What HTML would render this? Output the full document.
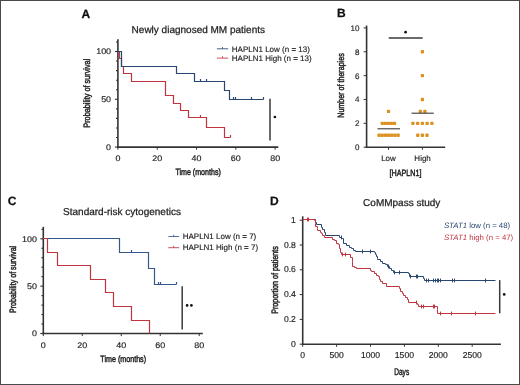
<!DOCTYPE html>
<html><head><meta charset="utf-8"><style>
html,body{margin:0;padding:0;background:#fff;}
body{width:520px;height:385px;overflow:hidden;}
svg{display:block;font-family:"Liberation Sans", sans-serif;will-change:transform;text-rendering:geometricPrecision;}
</style></head><body>
<svg width="520" height="385" viewBox="0 0 520 385">
<rect x="0" y="0" width="520" height="385" fill="#fff"/>
<text x="81.60" y="17.60" font-size="12" text-anchor="start" fill="#111" font-weight="bold" stroke="#111" stroke-width="0.25" >A</text>
<text x="131.60" y="33.00" font-size="10" text-anchor="start" fill="#222" font-weight="normal" stroke="#222" stroke-width="0.25" >Newly diagnosed MM patients</text>
<line x1="117.90" y1="39.30" x2="117.90" y2="147.90" stroke="#333333" stroke-width="1.6"/>
<line x1="117.10" y1="147.10" x2="278.30" y2="147.10" stroke="#333333" stroke-width="1.6"/>
<line x1="114.90" y1="147.10" x2="117.90" y2="147.10" stroke="#333333" stroke-width="1.1"/>
<line x1="116.00" y1="137.54" x2="117.90" y2="137.54" stroke="#333333" stroke-width="1.1"/>
<line x1="116.00" y1="127.98" x2="117.90" y2="127.98" stroke="#333333" stroke-width="1.1"/>
<line x1="116.00" y1="118.42" x2="117.90" y2="118.42" stroke="#333333" stroke-width="1.1"/>
<line x1="116.00" y1="108.86" x2="117.90" y2="108.86" stroke="#333333" stroke-width="1.1"/>
<line x1="114.90" y1="99.30" x2="117.90" y2="99.30" stroke="#333333" stroke-width="1.1"/>
<line x1="116.00" y1="89.74" x2="117.90" y2="89.74" stroke="#333333" stroke-width="1.1"/>
<line x1="116.00" y1="80.18" x2="117.90" y2="80.18" stroke="#333333" stroke-width="1.1"/>
<line x1="116.00" y1="70.62" x2="117.90" y2="70.62" stroke="#333333" stroke-width="1.1"/>
<line x1="116.00" y1="61.06" x2="117.90" y2="61.06" stroke="#333333" stroke-width="1.1"/>
<line x1="114.90" y1="51.50" x2="117.90" y2="51.50" stroke="#333333" stroke-width="1.1"/>
<line x1="116.00" y1="41.94" x2="117.90" y2="41.94" stroke="#333333" stroke-width="1.1"/>
<line x1="117.90" y1="147.10" x2="117.90" y2="149.70" stroke="#333333" stroke-width="1.0"/>
<text x="117.90" y="160.90" font-size="8.2" text-anchor="middle" fill="#222" stroke="#222" stroke-width="0.15" textLength="4.97" lengthAdjust="spacingAndGlyphs">0</text>
<line x1="157.22" y1="147.10" x2="157.22" y2="149.70" stroke="#333333" stroke-width="1.0"/>
<text x="157.22" y="160.90" font-size="8.2" text-anchor="middle" fill="#222" stroke="#222" stroke-width="0.15" textLength="9.94" lengthAdjust="spacingAndGlyphs">20</text>
<line x1="196.54" y1="147.10" x2="196.54" y2="149.70" stroke="#333333" stroke-width="1.0"/>
<text x="196.54" y="160.90" font-size="8.2" text-anchor="middle" fill="#222" stroke="#222" stroke-width="0.15" textLength="9.94" lengthAdjust="spacingAndGlyphs">40</text>
<line x1="235.86" y1="147.10" x2="235.86" y2="149.70" stroke="#333333" stroke-width="1.0"/>
<text x="235.86" y="160.90" font-size="8.2" text-anchor="middle" fill="#222" stroke="#222" stroke-width="0.15" textLength="9.94" lengthAdjust="spacingAndGlyphs">60</text>
<line x1="275.18" y1="147.10" x2="275.18" y2="149.70" stroke="#333333" stroke-width="1.0"/>
<text x="275.18" y="160.90" font-size="8.2" text-anchor="middle" fill="#222" stroke="#222" stroke-width="0.15" textLength="9.94" lengthAdjust="spacingAndGlyphs">80</text>
<text x="111.10" y="149.95" font-size="8.2" text-anchor="end" fill="#222" stroke="#222" stroke-width="0.15" textLength="4.97" lengthAdjust="spacingAndGlyphs">0</text>
<text x="111.10" y="102.15" font-size="8.2" text-anchor="end" fill="#222" stroke="#222" stroke-width="0.15" textLength="9.94" lengthAdjust="spacingAndGlyphs">50</text>
<text x="111.10" y="54.35" font-size="8.2" text-anchor="end" fill="#222" stroke="#222" stroke-width="0.15" textLength="14.91" lengthAdjust="spacingAndGlyphs">100</text>
<text x="198.10" y="175.00" font-size="9" text-anchor="middle" fill="#222" font-weight="normal" textLength="45.4" lengthAdjust="spacingAndGlyphs" stroke="#222" stroke-width="0.45">Time (months)</text>
<text transform="translate(90.00,93.20) rotate(-90)" x="0" y="0" font-size="9.3" text-anchor="middle" fill="#222" font-weight="normal" textLength="69.0" lengthAdjust="spacingAndGlyphs" stroke="#222" stroke-width="0.45">Probability of survival</text>
<path d="M117.90,51.50 H119.50 V58.50 H121.50 V66.50 H123.50 V73.50 H131.50 V81.50 H165.50 V95.50 H173.50 V103.50 H180.50 V110.50 H188.50 V117.50 H206.50 V127.50 H224.50 V137.50 H230.50 V137.50" fill="none" stroke="#c0343f" stroke-width="1.2" stroke-linejoin="miter" stroke-linecap="butt"/>
<line x1="200.50" y1="115.00" x2="200.50" y2="117.50" stroke="#c0343f" stroke-width="1.2"/>
<line x1="230.50" y1="135.00" x2="230.50" y2="137.50" stroke="#c0343f" stroke-width="1.2"/>
<path d="M117.90,51.50 H121.50 V66.50 H176.50 V73.50 H194.50 V81.50 H224.50 V90.50 H229.50 V99.50 H263.50 V99.50" fill="none" stroke="#284670" stroke-width="1.2" stroke-linejoin="miter" stroke-linecap="butt"/>
<line x1="200.50" y1="79.00" x2="200.50" y2="81.50" stroke="#284670" stroke-width="1.2"/>
<line x1="206.50" y1="79.00" x2="206.50" y2="81.50" stroke="#284670" stroke-width="1.2"/>
<line x1="233.50" y1="97.00" x2="233.50" y2="99.50" stroke="#284670" stroke-width="1.2"/>
<line x1="235.50" y1="97.00" x2="235.50" y2="99.50" stroke="#284670" stroke-width="1.2"/>
<line x1="251.50" y1="97.00" x2="251.50" y2="99.50" stroke="#284670" stroke-width="1.2"/>
<line x1="263.50" y1="97.00" x2="263.50" y2="99.50" stroke="#284670" stroke-width="1.2"/>
<line x1="216.90" y1="48.80" x2="228.20" y2="48.80" stroke="#284670" stroke-width="0.85"/>
<line x1="222.50" y1="47.00" x2="222.50" y2="48.80" stroke="#284670" stroke-width="0.8"/>
<line x1="216.90" y1="58.10" x2="228.20" y2="58.10" stroke="#c0343f" stroke-width="0.85"/>
<line x1="222.50" y1="56.30" x2="222.50" y2="58.10" stroke="#c0343f" stroke-width="0.8"/>
<text x="231.80" y="51.60" font-size="8" text-anchor="start" fill="#222" font-weight="normal" stroke="#222" stroke-width="0.15" >HAPLN1 Low (n = 13)</text>
<text x="231.80" y="61.00" font-size="8" text-anchor="start" fill="#222" font-weight="normal" stroke="#222" stroke-width="0.15" >HAPLN1 High (n = 13)</text>
<line x1="270.00" y1="98.70" x2="270.00" y2="140.50" stroke="#3a3a3a" stroke-width="1.5"/>
<circle cx="274.90" cy="117.00" r="1.35" fill="#111"/>
<text x="337.00" y="17.40" font-size="12" text-anchor="start" fill="#111" font-weight="bold" stroke="#111" stroke-width="0.25" >B</text>
<line x1="366.60" y1="25.60" x2="366.60" y2="148.00" stroke="#333333" stroke-width="1.6"/>
<line x1="365.80" y1="147.20" x2="445.20" y2="147.20" stroke="#333333" stroke-width="1.6"/>
<line x1="363.60" y1="147.20" x2="366.60" y2="147.20" stroke="#333333" stroke-width="1.0"/>
<text x="359.40" y="150.10" font-size="8" text-anchor="end" fill="#222" font-weight="normal" stroke="#222" stroke-width="0.15" >0</text>
<line x1="363.60" y1="123.34" x2="366.60" y2="123.34" stroke="#333333" stroke-width="1.0"/>
<text x="359.40" y="126.24" font-size="8" text-anchor="end" fill="#222" font-weight="normal" stroke="#222" stroke-width="0.15" >2</text>
<line x1="363.60" y1="99.48" x2="366.60" y2="99.48" stroke="#333333" stroke-width="1.0"/>
<text x="359.40" y="102.38" font-size="8" text-anchor="end" fill="#222" font-weight="normal" stroke="#222" stroke-width="0.15" >4</text>
<line x1="363.60" y1="75.62" x2="366.60" y2="75.62" stroke="#333333" stroke-width="1.0"/>
<text x="359.40" y="78.52" font-size="8" text-anchor="end" fill="#222" font-weight="normal" stroke="#222" stroke-width="0.15" >6</text>
<line x1="363.60" y1="51.76" x2="366.60" y2="51.76" stroke="#333333" stroke-width="1.0"/>
<text x="359.40" y="54.66" font-size="8" text-anchor="end" fill="#222" font-weight="normal" stroke="#222" stroke-width="0.15" >8</text>
<line x1="363.60" y1="27.90" x2="366.60" y2="27.90" stroke="#333333" stroke-width="1.0"/>
<text x="359.40" y="30.80" font-size="8" text-anchor="end" fill="#222" font-weight="normal" stroke="#222" stroke-width="0.15" >10</text>
<line x1="388.50" y1="147.20" x2="388.50" y2="149.80" stroke="#333333" stroke-width="1.0"/>
<line x1="422.40" y1="147.20" x2="422.40" y2="149.80" stroke="#333333" stroke-width="1.0"/>
<text x="388.50" y="160.90" font-size="8" text-anchor="middle" fill="#222" font-weight="normal" stroke="#222" stroke-width="0.15" >Low</text>
<text x="422.60" y="160.90" font-size="8" text-anchor="middle" fill="#222" font-weight="normal" stroke="#222" stroke-width="0.15" >High</text>
<text x="405.50" y="175.70" font-size="9" text-anchor="middle" fill="#222" font-weight="normal" textLength="31.9" lengthAdjust="spacingAndGlyphs" stroke="#222" stroke-width="0.45">[HAPLN1]</text>
<text transform="translate(344.00,85.50) rotate(-90)" x="0" y="0" font-size="9.3" text-anchor="middle" fill="#222" font-weight="normal" textLength="64.4" lengthAdjust="spacingAndGlyphs" stroke="#222" stroke-width="0.45">Number of therapies</text>
<rect x="377.44" y="133.62" width="3.3" height="3.3" rx="0.9" fill="#dc901f"/>
<rect x="380.61" y="133.62" width="3.3" height="3.3" rx="0.9" fill="#dc901f"/>
<rect x="383.78" y="133.62" width="3.3" height="3.3" rx="0.9" fill="#dc901f"/>
<rect x="386.95" y="133.62" width="3.3" height="3.3" rx="0.9" fill="#dc901f"/>
<rect x="390.12" y="133.62" width="3.3" height="3.3" rx="0.9" fill="#dc901f"/>
<rect x="393.29" y="133.62" width="3.3" height="3.3" rx="0.9" fill="#dc901f"/>
<rect x="396.46" y="133.62" width="3.3" height="3.3" rx="0.9" fill="#dc901f"/>
<rect x="380.65" y="121.69" width="3.3" height="3.3" rx="0.9" fill="#dc901f"/>
<rect x="383.70" y="121.69" width="3.3" height="3.3" rx="0.9" fill="#dc901f"/>
<rect x="386.75" y="121.69" width="3.3" height="3.3" rx="0.9" fill="#dc901f"/>
<rect x="389.80" y="121.69" width="3.3" height="3.3" rx="0.9" fill="#dc901f"/>
<rect x="392.85" y="121.69" width="3.3" height="3.3" rx="0.9" fill="#dc901f"/>
<rect x="386.85" y="109.76" width="3.3" height="3.3" rx="0.9" fill="#dc901f"/>
<rect x="416.15" y="133.62" width="3.3" height="3.3" rx="0.9" fill="#dc901f"/>
<rect x="420.75" y="133.62" width="3.3" height="3.3" rx="0.9" fill="#dc901f"/>
<rect x="425.35" y="133.62" width="3.3" height="3.3" rx="0.9" fill="#dc901f"/>
<rect x="411.25" y="121.69" width="3.3" height="3.3" rx="0.9" fill="#dc901f"/>
<rect x="416.00" y="121.69" width="3.3" height="3.3" rx="0.9" fill="#dc901f"/>
<rect x="420.75" y="121.69" width="3.3" height="3.3" rx="0.9" fill="#dc901f"/>
<rect x="425.50" y="121.69" width="3.3" height="3.3" rx="0.9" fill="#dc901f"/>
<rect x="430.25" y="121.69" width="3.3" height="3.3" rx="0.9" fill="#dc901f"/>
<rect x="418.65" y="109.76" width="3.3" height="3.3" rx="0.9" fill="#dc901f"/>
<rect x="423.25" y="109.76" width="3.3" height="3.3" rx="0.9" fill="#dc901f"/>
<rect x="420.75" y="97.83" width="3.3" height="3.3" rx="0.9" fill="#dc901f"/>
<rect x="420.75" y="73.97" width="3.3" height="3.3" rx="0.9" fill="#dc901f"/>
<rect x="420.75" y="50.11" width="3.3" height="3.3" rx="0.9" fill="#dc901f"/>
<line x1="377.50" y1="128.80" x2="400.00" y2="128.80" stroke="#3a3a3a" stroke-width="1.1"/>
<line x1="411.50" y1="113.20" x2="433.80" y2="113.20" stroke="#3a3a3a" stroke-width="1.1"/>
<line x1="388.70" y1="38.10" x2="422.70" y2="38.10" stroke="#3a3a3a" stroke-width="1.5"/>
<circle cx="405.60" cy="32.20" r="1.35" fill="#111"/>
<text x="7.80" y="205.00" font-size="12" text-anchor="start" fill="#111" font-weight="bold" stroke="#111" stroke-width="0.25" >C</text>
<text x="63.10" y="215.40" font-size="10" text-anchor="start" fill="#222" font-weight="normal" stroke="#222" stroke-width="0.25" >Standard-risk cytogenetics</text>
<line x1="43.30" y1="226.80" x2="43.30" y2="334.30" stroke="#333333" stroke-width="1.6"/>
<line x1="42.50" y1="333.50" x2="202.80" y2="333.50" stroke="#333333" stroke-width="1.6"/>
<line x1="40.30" y1="333.50" x2="43.30" y2="333.50" stroke="#333333" stroke-width="1.1"/>
<line x1="41.40" y1="324.03" x2="43.30" y2="324.03" stroke="#333333" stroke-width="1.1"/>
<line x1="41.40" y1="314.56" x2="43.30" y2="314.56" stroke="#333333" stroke-width="1.1"/>
<line x1="41.40" y1="305.09" x2="43.30" y2="305.09" stroke="#333333" stroke-width="1.1"/>
<line x1="41.40" y1="295.62" x2="43.30" y2="295.62" stroke="#333333" stroke-width="1.1"/>
<line x1="40.30" y1="286.15" x2="43.30" y2="286.15" stroke="#333333" stroke-width="1.1"/>
<line x1="41.40" y1="276.68" x2="43.30" y2="276.68" stroke="#333333" stroke-width="1.1"/>
<line x1="41.40" y1="267.21" x2="43.30" y2="267.21" stroke="#333333" stroke-width="1.1"/>
<line x1="41.40" y1="257.74" x2="43.30" y2="257.74" stroke="#333333" stroke-width="1.1"/>
<line x1="41.40" y1="248.27" x2="43.30" y2="248.27" stroke="#333333" stroke-width="1.1"/>
<line x1="40.30" y1="238.80" x2="43.30" y2="238.80" stroke="#333333" stroke-width="1.1"/>
<line x1="41.40" y1="229.33" x2="43.30" y2="229.33" stroke="#333333" stroke-width="1.1"/>
<line x1="43.30" y1="333.50" x2="43.30" y2="336.10" stroke="#333333" stroke-width="1.0"/>
<text x="43.30" y="347.50" font-size="8.2" text-anchor="middle" fill="#222" stroke="#222" stroke-width="0.15" textLength="4.97" lengthAdjust="spacingAndGlyphs">0</text>
<line x1="82.28" y1="333.50" x2="82.28" y2="336.10" stroke="#333333" stroke-width="1.0"/>
<text x="82.28" y="347.50" font-size="8.2" text-anchor="middle" fill="#222" stroke="#222" stroke-width="0.15" textLength="9.94" lengthAdjust="spacingAndGlyphs">20</text>
<line x1="121.26" y1="333.50" x2="121.26" y2="336.10" stroke="#333333" stroke-width="1.0"/>
<text x="121.26" y="347.50" font-size="8.2" text-anchor="middle" fill="#222" stroke="#222" stroke-width="0.15" textLength="9.94" lengthAdjust="spacingAndGlyphs">40</text>
<line x1="160.24" y1="333.50" x2="160.24" y2="336.10" stroke="#333333" stroke-width="1.0"/>
<text x="160.24" y="347.50" font-size="8.2" text-anchor="middle" fill="#222" stroke="#222" stroke-width="0.15" textLength="9.94" lengthAdjust="spacingAndGlyphs">60</text>
<line x1="199.22" y1="333.50" x2="199.22" y2="336.10" stroke="#333333" stroke-width="1.0"/>
<text x="199.22" y="347.50" font-size="8.2" text-anchor="middle" fill="#222" stroke="#222" stroke-width="0.15" textLength="9.94" lengthAdjust="spacingAndGlyphs">80</text>
<text x="36.90" y="336.35" font-size="8.2" text-anchor="end" fill="#222" stroke="#222" stroke-width="0.15" textLength="4.97" lengthAdjust="spacingAndGlyphs">0</text>
<text x="36.90" y="289.00" font-size="8.2" text-anchor="end" fill="#222" stroke="#222" stroke-width="0.15" textLength="9.94" lengthAdjust="spacingAndGlyphs">50</text>
<text x="36.90" y="241.65" font-size="8.2" text-anchor="end" fill="#222" stroke="#222" stroke-width="0.15" textLength="14.91" lengthAdjust="spacingAndGlyphs">100</text>
<text x="123.20" y="361.50" font-size="9" text-anchor="middle" fill="#222" font-weight="normal" textLength="45.7" lengthAdjust="spacingAndGlyphs" stroke="#222" stroke-width="0.45">Time (months)</text>
<text transform="translate(15.60,279.40) rotate(-90)" x="0" y="0" font-size="9.3" text-anchor="middle" fill="#222" font-weight="normal" textLength="67.2" lengthAdjust="spacingAndGlyphs" stroke="#222" stroke-width="0.45">Probability of survival</text>
<path d="M43.30,238.50 H119.50 V252.50 H148.50 V268.50 H154.50 V284.50 H176.50 V284.50" fill="none" stroke="#34588a" stroke-width="1.2" stroke-linejoin="miter" stroke-linecap="butt"/>
<line x1="131.50" y1="250.00" x2="131.50" y2="252.50" stroke="#34588a" stroke-width="1.2"/>
<line x1="158.50" y1="282.00" x2="158.50" y2="284.50" stroke="#34588a" stroke-width="1.2"/>
<line x1="160.50" y1="282.00" x2="160.50" y2="284.50" stroke="#34588a" stroke-width="1.2"/>
<line x1="176.50" y1="282.00" x2="176.50" y2="284.50" stroke="#34588a" stroke-width="1.2"/>
<path d="M43.30,238.50 H47.50 V252.50 H57.50 V265.50 H90.50 V279.50 H105.50 V292.50 H113.50 V306.50 H131.50 V320.50 H149.50 V333.50" fill="none" stroke="#c0343f" stroke-width="1.2" stroke-linejoin="miter" stroke-linecap="butt"/>
<line x1="168.30" y1="236.50" x2="179.20" y2="236.50" stroke="#34588a" stroke-width="0.85"/>
<line x1="173.70" y1="234.70" x2="173.70" y2="236.50" stroke="#34588a" stroke-width="0.8"/>
<line x1="168.30" y1="247.70" x2="179.20" y2="247.70" stroke="#c0343f" stroke-width="0.85"/>
<line x1="173.70" y1="245.90" x2="173.70" y2="247.70" stroke="#c0343f" stroke-width="0.8"/>
<text x="182.70" y="238.90" font-size="8" text-anchor="start" fill="#222" font-weight="normal" stroke="#222" stroke-width="0.15" >HAPLN1 Low (n = 7)</text>
<text x="182.70" y="249.70" font-size="8" text-anchor="start" fill="#222" font-weight="normal" stroke="#222" stroke-width="0.15" >HAPLN1 High (n = 7)</text>
<line x1="182.20" y1="286.30" x2="182.20" y2="329.60" stroke="#3a3a3a" stroke-width="1.5"/>
<circle cx="187.10" cy="305.40" r="1.35" fill="#111"/>
<circle cx="191.40" cy="305.40" r="1.35" fill="#111"/>
<text x="270.00" y="204.80" font-size="12" text-anchor="start" fill="#111" font-weight="bold" stroke="#111" stroke-width="0.25" >D</text>
<text x="363.10" y="205.60" font-size="10" text-anchor="start" fill="#222" font-weight="normal" stroke="#222" stroke-width="0.25" >CoMMpass study</text>
<line x1="302.70" y1="216.30" x2="302.70" y2="345.00" stroke="#333333" stroke-width="1.6"/>
<line x1="301.90" y1="344.20" x2="500.90" y2="344.20" stroke="#333333" stroke-width="1.6"/>
<line x1="299.70" y1="344.20" x2="302.70" y2="344.20" stroke="#333333" stroke-width="1.0"/>
<text x="295.90" y="346.80" font-size="8.6" text-anchor="end" fill="#222" font-weight="normal" stroke="#222" stroke-width="0.15" >0</text>
<line x1="299.70" y1="319.40" x2="302.70" y2="319.40" stroke="#333333" stroke-width="1.0"/>
<text x="295.90" y="322.00" font-size="8.6" text-anchor="end" fill="#222" font-weight="normal" stroke="#222" stroke-width="0.15" >0.2</text>
<line x1="299.70" y1="294.60" x2="302.70" y2="294.60" stroke="#333333" stroke-width="1.0"/>
<text x="295.90" y="297.20" font-size="8.6" text-anchor="end" fill="#222" font-weight="normal" stroke="#222" stroke-width="0.15" >0.4</text>
<line x1="299.70" y1="269.80" x2="302.70" y2="269.80" stroke="#333333" stroke-width="1.0"/>
<text x="295.90" y="272.40" font-size="8.6" text-anchor="end" fill="#222" font-weight="normal" stroke="#222" stroke-width="0.15" >0.6</text>
<line x1="299.70" y1="245.00" x2="302.70" y2="245.00" stroke="#333333" stroke-width="1.0"/>
<text x="295.90" y="247.60" font-size="8.6" text-anchor="end" fill="#222" font-weight="normal" stroke="#222" stroke-width="0.15" >0.8</text>
<line x1="299.70" y1="220.20" x2="302.70" y2="220.20" stroke="#333333" stroke-width="1.0"/>
<text x="295.90" y="222.80" font-size="8.6" text-anchor="end" fill="#222" font-weight="normal" stroke="#222" stroke-width="0.15" >1</text>
<line x1="302.70" y1="344.20" x2="302.70" y2="346.80" stroke="#333333" stroke-width="1.0"/>
<text x="302.70" y="358.20" font-size="8.6" text-anchor="middle" fill="#222" font-weight="normal" stroke="#222" stroke-width="0.15" >0</text>
<line x1="336.60" y1="344.20" x2="336.60" y2="346.80" stroke="#333333" stroke-width="1.0"/>
<text x="336.60" y="358.20" font-size="8.6" text-anchor="middle" fill="#222" font-weight="normal" stroke="#222" stroke-width="0.15" >500</text>
<line x1="370.50" y1="344.20" x2="370.50" y2="346.80" stroke="#333333" stroke-width="1.0"/>
<text x="370.50" y="358.20" font-size="8.6" text-anchor="middle" fill="#222" font-weight="normal" stroke="#222" stroke-width="0.15" >1000</text>
<line x1="404.40" y1="344.20" x2="404.40" y2="346.80" stroke="#333333" stroke-width="1.0"/>
<text x="404.40" y="358.20" font-size="8.6" text-anchor="middle" fill="#222" font-weight="normal" stroke="#222" stroke-width="0.15" >1500</text>
<line x1="438.30" y1="344.20" x2="438.30" y2="346.80" stroke="#333333" stroke-width="1.0"/>
<text x="438.30" y="358.20" font-size="8.6" text-anchor="middle" fill="#222" font-weight="normal" stroke="#222" stroke-width="0.15" >2000</text>
<line x1="472.20" y1="344.20" x2="472.20" y2="346.80" stroke="#333333" stroke-width="1.0"/>
<text x="472.20" y="358.20" font-size="8.6" text-anchor="middle" fill="#222" font-weight="normal" stroke="#222" stroke-width="0.15" >2500</text>
<text x="401.70" y="375.00" font-size="9.6" text-anchor="middle" fill="#222" font-weight="normal" textLength="14.9" lengthAdjust="spacingAndGlyphs" stroke="#222" stroke-width="0.45">Days</text>
<text transform="translate(278.20,280.00) rotate(-90)" x="0" y="0" font-size="9.3" text-anchor="middle" fill="#222" font-weight="normal" textLength="67.5" lengthAdjust="spacingAndGlyphs" stroke="#222" stroke-width="0.45">Proportion of patients</text>
<text x="443.9" y="228.1" font-size="7.8" fill="#284670"><tspan font-style="italic">STAT1</tspan> low (n = 48)</text>
<text x="443.9" y="239.8" font-size="7.8" fill="#c0343f"><tspan font-style="italic">STAT1</tspan> high (n = 47)</text>
<path d="M302.70,219.50 H315.50 V222.50 H316.50 V224.50 H321.50 V227.50 H322.50 V229.50 H324.50 V232.50 H325.50 V235.50 H339.50 V237.50 H341.50 V238.50 H343.50 V243.50 H346.50 V245.50 H349.50 V247.50 H351.50 V248.50 H353.50 V250.50 H355.50 V251.50 H374.50 V252.50 H375.50 V254.50 H376.50 V256.50 H377.50 V258.50 H377.50 V259.50 H380.50 V261.50 H382.50 V263.50 H385.50 V264.50 H387.50 V266.50 H389.50 V268.50 H391.50 V270.50 H393.50 V272.50 H408.50 V273.50 H409.50 V276.50 H423.50 V278.50 H424.50 V280.50 H495.50 V280.50" fill="none" stroke="#284670" stroke-width="1.0" stroke-linejoin="miter" stroke-linecap="butt"/>
<line x1="341.50" y1="235.60" x2="341.50" y2="239.40" stroke="#284670" stroke-width="1.0"/>
<line x1="362.50" y1="249.60" x2="362.50" y2="253.40" stroke="#284670" stroke-width="1.0"/>
<line x1="370.50" y1="249.60" x2="370.50" y2="253.40" stroke="#284670" stroke-width="1.0"/>
<line x1="388.50" y1="264.60" x2="388.50" y2="268.40" stroke="#284670" stroke-width="1.0"/>
<line x1="394.50" y1="270.60" x2="394.50" y2="274.40" stroke="#284670" stroke-width="1.0"/>
<line x1="399.50" y1="270.60" x2="399.50" y2="274.40" stroke="#284670" stroke-width="1.0"/>
<line x1="410.50" y1="274.60" x2="410.50" y2="278.40" stroke="#284670" stroke-width="1.0"/>
<line x1="416.50" y1="274.60" x2="416.50" y2="278.40" stroke="#284670" stroke-width="1.0"/>
<line x1="417.50" y1="274.60" x2="417.50" y2="278.40" stroke="#284670" stroke-width="1.0"/>
<line x1="426.50" y1="278.60" x2="426.50" y2="282.40" stroke="#284670" stroke-width="1.0"/>
<line x1="428.50" y1="278.60" x2="428.50" y2="282.40" stroke="#284670" stroke-width="1.0"/>
<line x1="433.50" y1="278.60" x2="433.50" y2="282.40" stroke="#284670" stroke-width="1.0"/>
<line x1="435.50" y1="278.60" x2="435.50" y2="282.40" stroke="#284670" stroke-width="1.0"/>
<line x1="437.50" y1="278.60" x2="437.50" y2="282.40" stroke="#284670" stroke-width="1.0"/>
<line x1="438.50" y1="278.60" x2="438.50" y2="282.40" stroke="#284670" stroke-width="1.0"/>
<line x1="440.50" y1="278.60" x2="440.50" y2="282.40" stroke="#284670" stroke-width="1.0"/>
<line x1="452.50" y1="278.60" x2="452.50" y2="282.40" stroke="#284670" stroke-width="1.0"/>
<line x1="454.50" y1="278.60" x2="454.50" y2="282.40" stroke="#284670" stroke-width="1.0"/>
<line x1="485.50" y1="278.60" x2="485.50" y2="282.40" stroke="#284670" stroke-width="1.0"/>
<path d="M302.70,219.50 H314.50 V220.50 H315.50 V223.50 H315.50 V226.50 H317.50 V228.50 H317.50 V230.50 H320.50 V232.50 H321.50 V233.50 H322.50 V235.50 H324.50 V237.50 H332.50 V239.50 H334.50 V240.50 H336.50 V243.50 H338.50 V244.50 H339.50 V248.50 H340.50 V252.50 H341.50 V254.50 H350.50 V257.50 H352.50 V261.50 H352.50 V266.50 H354.50 V267.50 H356.50 V268.50 H370.50 V270.50 H371.50 V271.50 H374.50 V273.50 H376.50 V275.50 H378.50 V276.50 H379.50 V279.50 H380.50 V281.50 H382.50 V283.50 H386.50 V286.50 H399.50 V288.50 H400.50 V291.50 H402.50 V293.50 H403.50 V295.50 H405.50 V297.50 H407.50 V299.50 H408.50 V302.50 H416.50 V303.50 H417.50 V304.50 H418.50 V306.50 H437.50 V309.50 H437.50 V313.50 H495.50 V313.50" fill="none" stroke="#c0343f" stroke-width="1.0" stroke-linejoin="miter" stroke-linecap="butt"/>
<line x1="307.50" y1="217.60" x2="307.50" y2="221.40" stroke="#c0343f" stroke-width="1.0"/>
<line x1="308.50" y1="217.60" x2="308.50" y2="221.40" stroke="#c0343f" stroke-width="1.0"/>
<line x1="342.50" y1="252.60" x2="342.50" y2="256.40" stroke="#c0343f" stroke-width="1.0"/>
<line x1="345.50" y1="252.60" x2="345.50" y2="256.40" stroke="#c0343f" stroke-width="1.0"/>
<line x1="416.50" y1="300.60" x2="416.50" y2="304.40" stroke="#c0343f" stroke-width="1.0"/>
<line x1="421.50" y1="304.60" x2="421.50" y2="308.40" stroke="#c0343f" stroke-width="1.0"/>
<line x1="423.50" y1="304.60" x2="423.50" y2="308.40" stroke="#c0343f" stroke-width="1.0"/>
<line x1="433.50" y1="304.60" x2="433.50" y2="308.40" stroke="#c0343f" stroke-width="1.0"/>
<line x1="434.50" y1="304.60" x2="434.50" y2="308.40" stroke="#c0343f" stroke-width="1.0"/>
<line x1="440.50" y1="311.60" x2="440.50" y2="315.40" stroke="#c0343f" stroke-width="1.0"/>
<line x1="451.50" y1="311.60" x2="451.50" y2="315.40" stroke="#c0343f" stroke-width="1.0"/>
<line x1="475.50" y1="311.60" x2="475.50" y2="315.40" stroke="#c0343f" stroke-width="1.0"/>
<line x1="499.70" y1="280.10" x2="499.70" y2="313.30" stroke="#3a3a3a" stroke-width="1.5"/>
<circle cx="504.20" cy="294.40" r="1.35" fill="#111"/>
<rect x="0.5" y="0.5" width="519" height="384" fill="none" stroke="#4a4a4a" stroke-width="1"/>
</svg>
</body></html>
